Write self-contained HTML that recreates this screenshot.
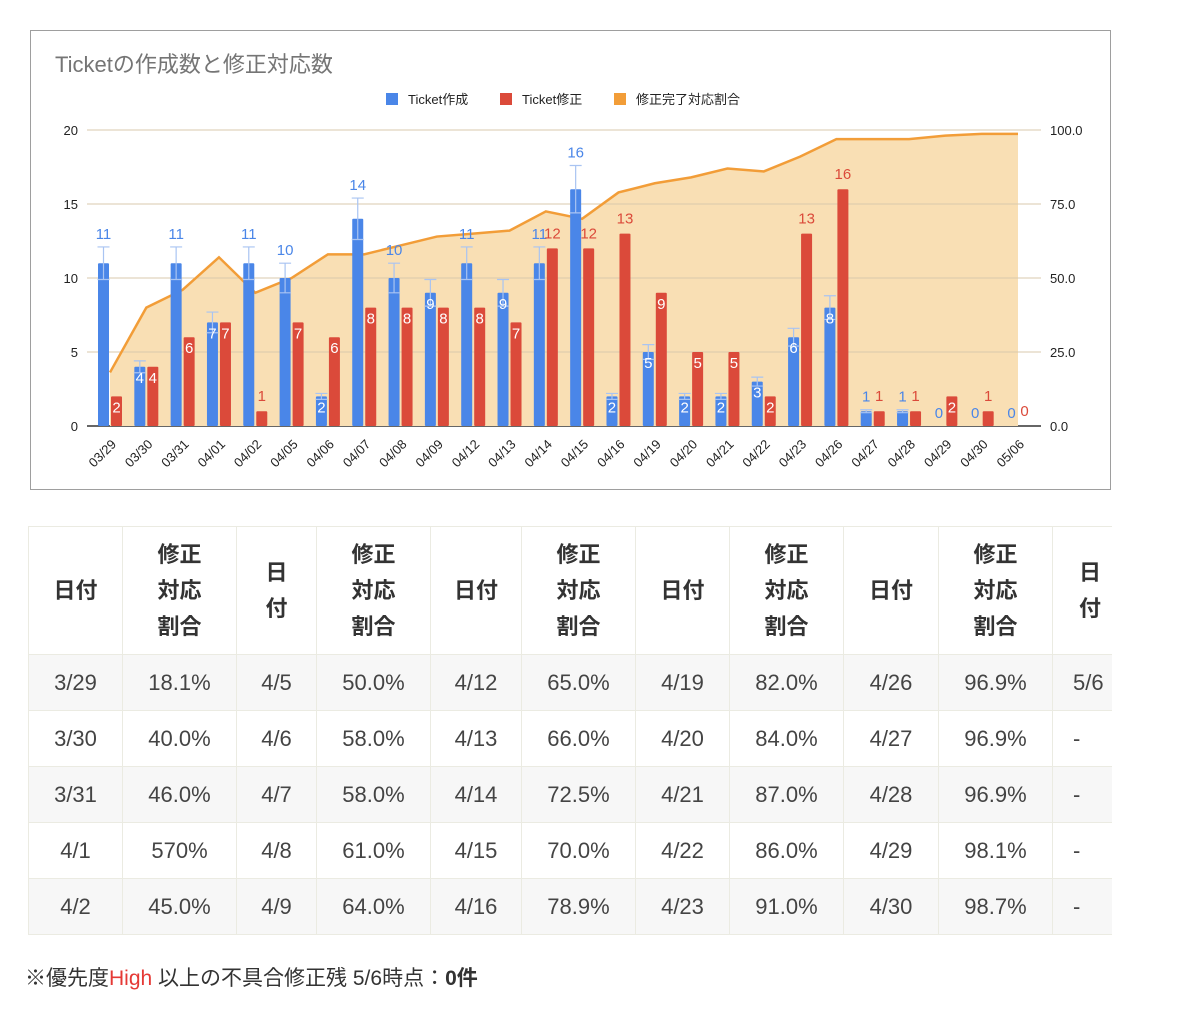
<!DOCTYPE html>
<html><head><meta charset="utf-8">
<style>
body{margin:0;background:#fff;width:1200px;height:1032px;overflow:hidden;font-family:"Liberation Sans","Noto Sans CJK JP",sans-serif;position:relative}
#chart{position:absolute;left:0;top:0}
#tbl-wrap{position:absolute;left:28px;top:526px;width:1084px;overflow:hidden}
table{border-collapse:collapse;table-layout:fixed;width:1150px;font-family:"Liberation Sans","Noto Sans CJK JP",sans-serif}
td,th{border:1px solid #ebebe2;text-align:center;font-size:22px;color:#444;font-weight:normal;padding:0}
th{height:127px;color:#333;font-weight:bold;line-height:36px}
td{height:55px}
tr.g td{background:#f7f7f7}
#note{position:absolute;left:25px;top:962px;font-size:21px;color:#333;font-family:"Liberation Sans","Noto Sans CJK JP",sans-serif}
</style></head><body>
<svg id="chart" width="1200" height="500" xmlns="http://www.w3.org/2000/svg" font-family="Liberation Sans, Noto Sans CJK JP, sans-serif">
<rect x="30.5" y="30.5" width="1080" height="459" fill="#fff" stroke="#9e9e9e"/>
<text x="55" y="72" font-size="22" fill="#757575">Ticketの作成数と修正対応数</text>
<g font-size="13" fill="#222">
<rect x="386" y="93" width="12" height="12" fill="#4a86e8"/><text x="408" y="104">Ticket作成</text>
<rect x="500" y="93" width="12" height="12" fill="#db4a3a"/><text x="522" y="104">Ticket修正</text>
<rect x="614" y="93" width="12" height="12" fill="#f29d38"/><text x="636" y="104">修正完了対応割合</text>
</g>
<g id="grid"></g><g id="area"></g><g id="bars"></g><g id="labels"></g>
</svg>
<script>
const categories=["03/29","03/30","03/31","04/01","04/02","04/05","04/06","04/07","04/08","04/09","04/12","04/13","04/14","04/15","04/16","04/19","04/20","04/21","04/22","04/23","04/26","04/27","04/28","04/29","04/30","05/06"];
const created=[11,4,11,7,11,10,2,14,10,9,11,9,11,16,2,5,2,2,3,6,8,1,1,0,0,0];
const fixed=[2,4,6,7,1,7,6,8,8,8,8,7,12,12,13,9,5,5,2,13,16,1,1,2,1,0];
const ratio=[18.1,40,46,57,45,50,58,58,61,64,65,66,72.5,70,78.9,82,84,87,86,91,96.9,96.9,96.9,98.1,98.7,98.7];
const leftTicks=[0,5,10,15,20];
const rightTicks=["0.0","25.0","50.0","75.0","100.0"];
const NS="http://www.w3.org/2000/svg";
const X0=87,X1=1041,Y0=426,Y1=130;
const step=(1018-110)/(categories.length-1);
const xc=i=>110+i*step;
const yL=v=>Y0-(v/20)*(Y0-Y1);
const yR=v=>Y0-(v/100)*(Y0-Y1);
function mk(t,a,p){const e=document.createElementNS(NS,t);for(const k in a)e.setAttribute(k,a[k]);p.appendChild(e);return e;}
const grid=document.getElementById('grid'),area=document.getElementById('area'),bars=document.getElementById('bars'),labels=document.getElementById('labels');
leftTicks.forEach((v,i)=>{
 const l=mk('line',{x1:X0,x2:X1,y1:yL(v),y2:yL(v),stroke:i==0?'#333':'#ddd','stroke-width':i==0?1.5:1},grid);
 
 
 const t=mk('text',{x:78,y:yL(v)+5,'text-anchor':'end','font-size':13,fill:'#222'},grid);t.textContent=v;
 
 
 const r=mk('text',{x:1050,y:yL(v)+5,'font-size':13,fill:'#222'},grid);r.textContent=rightTicks[i];
 
 
});
let pts=ratio.map((v,i)=>xc(i)+','+yR(v)).join(' ');
const poly=mk('polygon',{points:xc(0)+','+Y0+' '+pts+' '+xc(ratio.length-1)+','+Y0,fill:'#f9dfb4'},area);


leftTicks.slice(1).forEach(v=>{const g=mk('line',{x1:X0,x2:X1,y1:yL(v),y2:yL(v),stroke:'#d9c9ad','stroke-width':1},area);
 
 });
const pl=mk('polyline',{points:pts,fill:'none',stroke:'#f29d38','stroke-width':2.5},area);


const bw=11;
function label(v,x,top,color,inside){
 const t=mk('text',{x:x,y:inside?top+16:top-6,'text-anchor':'middle','font-size':15,fill:inside?'#fff':color},labels);
 t.textContent=v;
 
 
}
categories.forEach((c,i)=>{
 const xb=xc(i)-bw-1,xr=xc(i)+1;
 const vb=created[i],vr=fixed[i];
 if(vb>0){
  const b=mk('rect',{x:xb,y:yL(vb),width:bw,height:Y0-yL(vb),fill:'#4a86e8',rx:1},bars);
  
  
  const e1=yL(vb*1.1),e2=yL(vb*0.9),cx=xb+bw/2;
  const eb=mk('path',{d:`M${cx},${e1}V${e2}M${cx-6},${e1}H${cx+6}M${cx-6},${e2}H${cx+6}`,stroke:'#a9c4f2','stroke-width':1.2,fill:'none'},bars);
  
  
 }
 if(vr>0){
  const r=mk('rect',{x:xr,y:yL(vr),width:bw,height:Y0-yL(vr),fill:'#db4a3a',rx:1},bars);
  
  
 }
 const ib=vb>=2&&vb<10; label(vb,xb+bw/2,ib?yL(vb):Math.min(yL(vb*1.1),yL(vb))-2,'#4a86e8',ib);
 const ir=vr>=2&&vr<10; label(vr,xr+bw/2,yL(vr)-(ir?0:4),'#db4a3a',ir);
 const tx=mk('text',{x:xc(i)+7,y:445,'text-anchor':'end','font-size':13,fill:'#222',transform:`rotate(-45 ${xc(i)+7} 445)`},labels);
 tx.textContent=c;
 
 
});
</script>
<div id="tbl-wrap">
<table>
<colgroup><col style="width:94px"><col style="width:114px"><col style="width:80px"><col style="width:114px"><col style="width:91px"><col style="width:114px"><col style="width:94px"><col style="width:114px"><col style="width:95px"><col style="width:114px"><col style="width:126px"></colgroup>
<tr><th>日付</th><th>修正<br>対応<br>割合</th><th>日<br>付</th><th>修正<br>対応<br>割合</th><th>日付</th><th>修正<br>対応<br>割合</th><th>日付</th><th>修正<br>対応<br>割合</th><th>日付</th><th>修正<br>対応<br>割合</th><th style="text-align:left;padding-left:26px">日<br>付</th></tr>
<tr class="g"><td>3/29</td><td>18.1%</td><td>4/5</td><td>50.0%</td><td>4/12</td><td>65.0%</td><td>4/19</td><td>82.0%</td><td>4/26</td><td>96.9%</td><td style="text-align:left;padding-left:20px">5/6</td></tr>
<tr><td>3/30</td><td>40.0%</td><td>4/6</td><td>58.0%</td><td>4/13</td><td>66.0%</td><td>4/20</td><td>84.0%</td><td>4/27</td><td>96.9%</td><td style="text-align:left;padding-left:20px">-</td></tr>
<tr class="g"><td>3/31</td><td>46.0%</td><td>4/7</td><td>58.0%</td><td>4/14</td><td>72.5%</td><td>4/21</td><td>87.0%</td><td>4/28</td><td>96.9%</td><td style="text-align:left;padding-left:20px">-</td></tr>
<tr><td>4/1</td><td>570%</td><td>4/8</td><td>61.0%</td><td>4/15</td><td>70.0%</td><td>4/22</td><td>86.0%</td><td>4/29</td><td>98.1%</td><td style="text-align:left;padding-left:20px">-</td></tr>
<tr class="g"><td>4/2</td><td>45.0%</td><td>4/9</td><td>64.0%</td><td>4/16</td><td>78.9%</td><td>4/23</td><td>91.0%</td><td>4/30</td><td>98.7%</td><td style="text-align:left;padding-left:20px">-</td></tr>
</table></div>
<div id="note">※優先度<span style="color:#e53935">High</span> 以上の不具合修正残 5/6時点：<b>0件</b></div>
</body></html>
